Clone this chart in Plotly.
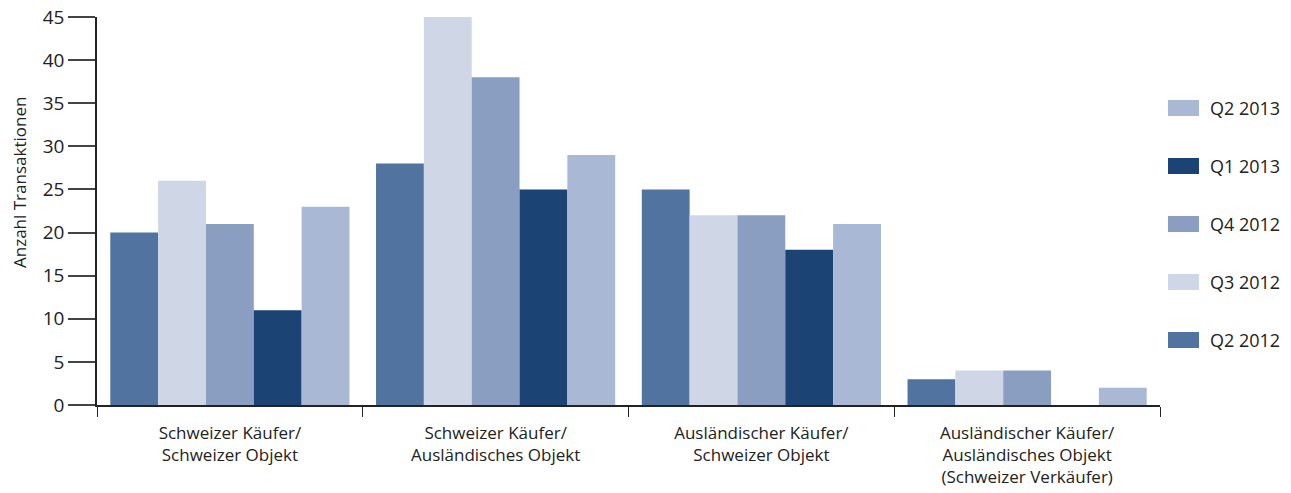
import plotly.graph_objects as go

categories = [
    "Schweizer Käufer/<br>Schweizer Objekt",
    "Schweizer Käufer/<br>Ausländisches Objekt",
    "Ausländischer Käufer/<br>Schweizer Objekt",
    "Ausländischer Käufer/<br>Ausländisches Objekt<br>(Schweizer Verkäufer)",
]
series_names = ["Q2 2012", "Q3 2012", "Q4 2012", "Q1 2013", "Q2 2013"]
q2_2012 = [20, 28, 25, 3]
q3_2012 = [26, 45, 22, 4]
q4_2012 = [21, 38, 22, 4]
q1_2013 = [11, 25, 18, 0]
q2_2013 = [23, 29, 21, 2]
colors = ["#5073A0", "#CFD6E6", "#8A9EC2", "#1B4475", "#A9B8D4"]
y_title = "Anzahl Transaktionen"

values = [q2_2012, q3_2012, q4_2012, q1_2013, q2_2013]

font_family = "Open Sans, Noto Sans, sans-serif"
W, H = 1291, 493
ML, MR, MT, MB = 97, 131, 17, 88
PW, PH = W - ML - MR, H - MT - MB

fig = go.Figure()
for name, vals, col in zip(series_names, values, colors):
    fig.add_trace(go.Bar(
        x=categories, y=vals, name=name, marker=dict(color=col, line=dict(width=0)),
        showlegend=False,
    ))

# custom legend (top: last series), wide swatches like the reference
shapes, annots = [], []
for i, (name, col) in enumerate(reversed(list(zip(series_names, colors)))):
    cy = 108 + 58 * i
    x0 = (1168 - ML) / PW
    x1 = (1199 - ML) / PW
    y0 = (H - MB - (cy + 8)) / PH
    y1 = (H - MB - (cy - 8)) / PH
    shapes.append(dict(type="rect", xref="paper", yref="paper", x0=x0, x1=x1, y0=y0, y1=y1,
                       fillcolor=col, line=dict(width=0)))
    annots.append(dict(xref="paper", yref="paper", x=(1208 - ML) / PW, y=(H - MB - cy) / PH,
                       xanchor="left", yanchor="middle", showarrow=False, text=name,
                       font=dict(size=18, color="#222222")))

# y-axis title (placed like the reference, slightly above centre)
annots.append(dict(xref="paper", yref="paper", x=(19 - ML) / PW, y=(H - MB - 183) / PH,
                   xanchor="center", yanchor="middle", showarrow=False, text=y_title,
                   textangle=-90, font=dict(size=17, color="#222222")))

fig.update_layout(
    width=W, height=H,
    margin=dict(l=ML, r=MR, t=MT, b=MB, autoexpand=False),
    paper_bgcolor="white", plot_bgcolor="white",
    barmode="group", bargap=0.1, bargroupgap=0,
    font=dict(family=font_family, size=17, color="#222222"),
    showlegend=False,
    shapes=shapes, annotations=annots,
)
fig.update_xaxes(
    showline=True, linecolor="#222222", linewidth=1.5,
    ticks="outside", tickson="boundaries", ticklen=10, tickcolor="#222222",
    tickfont=dict(size=17, color="#222222"), ticklabelstandoff=12,
    showgrid=False, automargin=False,
)
fig.update_yaxes(
    range=[0, 45], dtick=5, showline=True, linecolor="#222222", linewidth=1.5,
    ticks="outside", ticklen=27, tickcolor="#444444", tickwidth=1.5,
    tickfont=dict(size=19, color="#222222"),
    showgrid=False, zeroline=False, automargin=False,
)

fig.write_html("out.html")
